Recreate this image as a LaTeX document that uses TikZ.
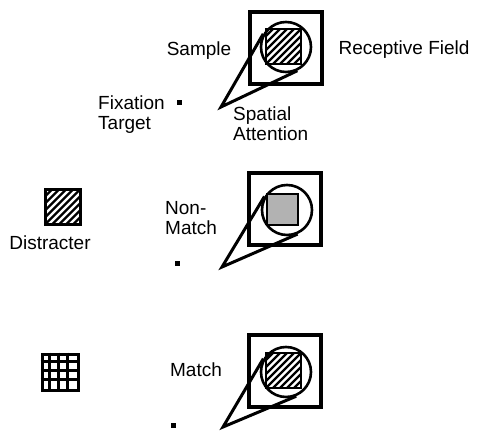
\documentclass[tikz,border=0pt]{standalone}
\usepackage{fontspec}
\setmainfont{Liberation Sans}
\usetikzlibrary{calc}

\begin{document}
\begin{tikzpicture}[
  x=1pt, y=-1pt,
  every node/.style={inner sep=0pt, font=\fontsize{19}{20}\selectfont},
  rfbox/.style={draw, line width=3.8pt, minimum size=72pt},
  ring/.style={circle, draw, line width=2.6pt, minimum size=50pt},
  stim/.style={draw, line width=2pt, minimum size=35pt},
  hatched/.style={path picture={
      \foreach \k in {-42,-35,...,42}
        \draw[line width=2.3pt] ($(path picture bounding box.center)+(\k-30,30)$)
          -- ($(path picture bounding box.center)+(\k+30,-30)$);
    }},
  fixdot/.style={fill, minimum size=5pt},
  cone/.style={line width=3pt, line join=miter}
]
  \useasboundingbox (0,0) rectangle (478,430);

  % sample
  \node[rfbox] (rf1) at (286,48) {};
  \node[ring] (ring1) at (286,47) {};
  \node[stim, hatched] (probe1) at (283.5,46.5) {};
  \node[fixdot] (fix1) at (179,103) {};
  \coordinate (a1) at (221,107);
  \draw[cone] (tangent cs:node=ring1,point={(a1)},solution=1) -- (a1)
    -- (tangent cs:node=ring1,point={(a1)},solution=2);

  % non-match
  \node[rfbox] (rf2) at (285,209) {};
  \node[ring] (ring2) at (287,210) {};
  \node[stim, fill=black!30, minimum size=31pt] (probe2) at (282.5,209) {};
  \node[fixdot] (fix2) at (177,263) {};
  \coordinate (a2) at (222,267);
  \draw[cone] (tangent cs:node=ring2,point={(a2)},solution=1) -- (a2)
    -- (tangent cs:node=ring2,point={(a2)},solution=2);

  % match
  \node[rfbox] (rf3) at (285,371) {};
  \node[ring] (ring3) at (286,372) {};
  \node[stim, hatched] (probe3) at (283.5,370.5) {};
  \node[fixdot] (fix3) at (173,425) {};
  \coordinate (a3) at (223,427);
  \draw[cone] (tangent cs:node=ring3,point={(a3)},solution=1) -- (a3)
    -- (tangent cs:node=ring3,point={(a3)},solution=2);

  % distracters
  \node[stim, hatched, line width=3pt] (dist) at (63,206.5) {};
  \node[stim, line width=3pt, minimum size=36pt] (grid) at (60,372) {};
  \foreach \k in {9,18,27}
  {
    \draw[line width=2.8pt] ($(grid.north west)+(\k,0)$) -- ($(grid.south west)+(\k,0)$);
    \draw[line width=2.8pt] ($(grid.north west)+(0,\k)$) -- ($(grid.north east)+(0,\k)$);
  }

  % labels
  \node (sample) at (199,51) {Sample};
  \node (rflabel) at (404,50) {Receptive Field};
  \node[anchor=north west, align=left] (fixlabel) at (98,96) {Fixation\\Target};
  \node[anchor=north west, align=left] (attnlabel) at (233,107) {Spatial\\Attention};
  \node[anchor=north west, align=left] (nonmatch) at (165,201) {Non-\\Match};
  \node (distlabel) at (50,243) {Distracter};
  \node (match) at (196,370) {Match};
\end{tikzpicture}
\end{document}
